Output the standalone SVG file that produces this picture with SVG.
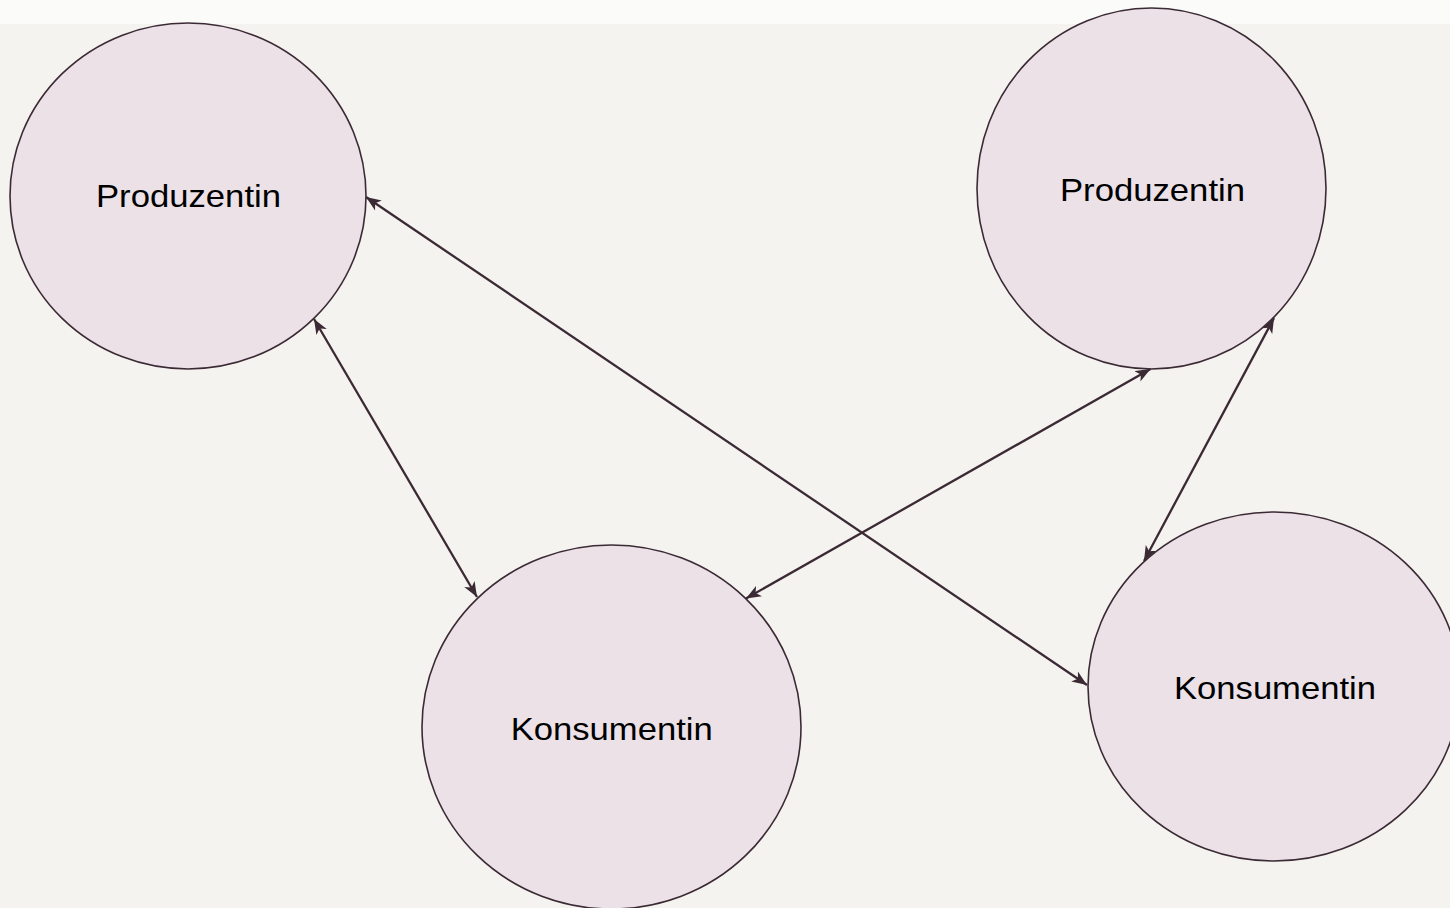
<svg xmlns="http://www.w3.org/2000/svg" width="1450" height="908" viewBox="0 0 1450 908">
  <style>
    .node { fill: #ebe1e7; stroke: #3b2a34; stroke-width: 1.6; }
    .label { font-family: "Liberation Sans", Arial, sans-serif; font-size: 30.5px; fill: #000; text-anchor: middle; }
    .link { stroke: #3b2a34; stroke-width: 2.3; fill: none; marker-start: url(#head); marker-end: url(#head); }
  </style>
  <defs>
    <marker id="head" markerUnits="userSpaceOnUse" viewBox="0 0 16 13" refX="15" refY="6.5" markerWidth="16" markerHeight="13" orient="auto-start-reverse">
      <path d="M0,0.5 L15,6.5 L0,12.5 L4,6.5 Z" fill="#3b2a34"/>
    </marker>
  </defs>

  <!-- background -->
  <rect x="0" y="0" width="1450" height="908" fill="#f4f3ef"/>
  <rect x="0" y="0" width="1450" height="24" fill="#fbfbfa"/>

  <!-- nodes -->
  <g id="produzentin-links">
    <ellipse class="node" cx="188" cy="196" rx="178" ry="173"/>
    <text class="label" x="188.5" y="207" textLength="185" lengthAdjust="spacingAndGlyphs">Produzentin</text>
  </g>
  <g id="produzentin-rechts">
    <ellipse class="node" cx="1151.5" cy="188.5" rx="174.5" ry="180.5"/>
    <text class="label" x="1152.5" y="201" textLength="185" lengthAdjust="spacingAndGlyphs">Produzentin</text>
  </g>
  <g id="konsumentin-mitte">
    <ellipse class="node" cx="611.5" cy="727" rx="189.5" ry="182"/>
    <text class="label" x="611.7" y="740" textLength="202" lengthAdjust="spacingAndGlyphs">Konsumentin</text>
  </g>
  <g id="konsumentin-rechts">
    <ellipse class="node" cx="1274" cy="686.5" rx="186" ry="174.5"/>
    <text class="label" x="1275" y="698.5" textLength="202" lengthAdjust="spacingAndGlyphs">Konsumentin</text>
  </g>

  <!-- connectors -->
  <g id="connectors">
    <line class="link" x1="366" y1="197" x2="1087" y2="685"/>
    <line class="link" x1="314" y1="319" x2="477" y2="597"/>
    <line class="link" x1="746" y1="598.5" x2="1150.5" y2="369"/>
    <line class="link" x1="1274" y1="318" x2="1144" y2="561"/>
  </g>
</svg>
